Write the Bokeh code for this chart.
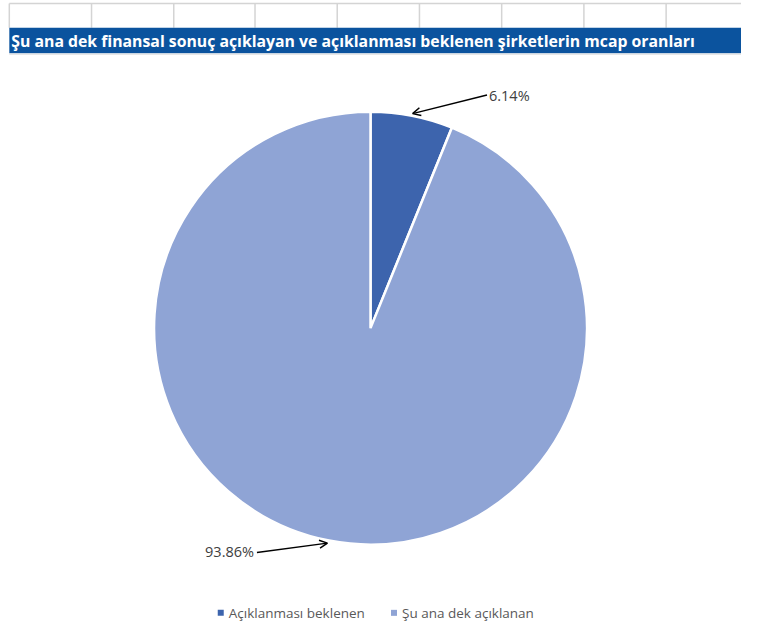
import numpy as np
from bokeh.plotting import figure
from bokeh.models import Range1d, Arrow, OpenHead, ColumnDataSource
from bokeh.core.properties import value
from bokeh.embed import file_html
from bokeh.resources import INLINE

# ---- data ----
categories = ["Açıklanması beklenen", "Şu ana dek açıklanan"]
shares = [6.14, 93.86]
colors = ["#3D64AD", "#8FA4D5"]
title_text = "Şu ana dek finansal sonuç açıklayan ve açıklanması beklenen şirketlerin mcap oranları"

W, H = 741, 626
SX, SY = W / 757, H / 642

def X(px):
    return px * SX

def Y(py):
    return (642 - py) * SY

p = figure(width=W, height=H, output_backend="svg", toolbar_location=None,
           x_range=Range1d(0, W), y_range=Range1d(0, H), min_border=0)
p.axis.visible = False
p.grid.visible = False
p.outline_line_color = None
p.background_fill_color = "white"
p.border_fill_color = "white"

FONT = value("Open Sans")

# spreadsheet grid above title
grid_x = [X(v) for v in [9, 93, 177, 260, 344, 428, 512, 596, 680]]
p.segment(x0=grid_x, y0=[Y(3)] * len(grid_x), x1=grid_x, y1=[Y(28)] * len(grid_x),
          line_color="#D4D4D4", line_width=1.5)
p.segment(x0=[X(9)], y0=[Y(3)], x1=[X(757)], y1=[Y(3)], line_color="#D4D4D4", line_width=1.5)

# title bar
p.quad(left=[X(9)], right=[X(760)], top=[Y(28)], bottom=[Y(54)], fill_color="#0B539E", line_color=None)
p.segment(x0=[X(9)], y0=[Y(55)], x1=[X(757)], y1=[Y(55)], line_color="#D9D9D9", line_width=1)
p.text(x=[X(11)], y=[Y(41.5)], text=[title_text], text_font=FONT, text_font_style="bold",
       text_font_size="15.8px", text_color="white", text_baseline="middle", text_align="left")

# pie
cx, cy, r = X(378), Y(336), 222 * SY
frac = np.array(shares) / np.sum(shares)
cum = np.concatenate([[0], np.cumsum(frac)])
start = np.pi / 2 - cum[:-1] * 2 * np.pi
end = np.pi / 2 - cum[1:] * 2 * np.pi
src = ColumnDataSource(dict(start=start, end=end, color=colors, cat=categories))
p.wedge(x=cx, y=cy, radius=r, radius_units="screen", start_angle="start", end_angle="end",
        direction="clock", fill_color="color", line_color="white", line_width=2.5, source=src)

# labels with arrows
labels = [f"{v:.2f}%" for v in shares]
p.add_layout(Arrow(x_start=X(497), y_start=Y(97), x_end=X(421), y_end=Y(116), line_color="black",
                   line_width=1.5, end=OpenHead(size=8, line_color="black", line_width=1.5)))
p.add_layout(Arrow(x_start=X(262), y_start=Y(566), x_end=X(334), y_end=Y(556.5), line_color="black",
                   line_width=1.5, end=OpenHead(size=8, line_color="black", line_width=1.5)))
p.text(x=[X(499)], y=[Y(97)], text=[labels[0]], text_font=FONT, text_font_size="14.5px",
       text_color="#404040", text_baseline="middle", text_align="left")
p.text(x=[X(259)], y=[Y(565)], text=[labels[1]], text_font=FONT, text_font_size="14.5px",
       text_color="#404040", text_baseline="middle", text_align="right")

# legend
leg_x = [X(225), X(402)]
p.rect(x=leg_x, y=[Y(628)] * 2, width=6, height=6, width_units="screen", height_units="screen",
       fill_color=colors, line_color=None)
p.text(x=[x + 8 for x in leg_x], y=[Y(628)] * 2, text=categories, text_font=FONT,
       text_font_size="13.5px", text_color="#595959", text_baseline="middle", text_align="left")

open("out.html", "w").write(file_html(p, INLINE))
